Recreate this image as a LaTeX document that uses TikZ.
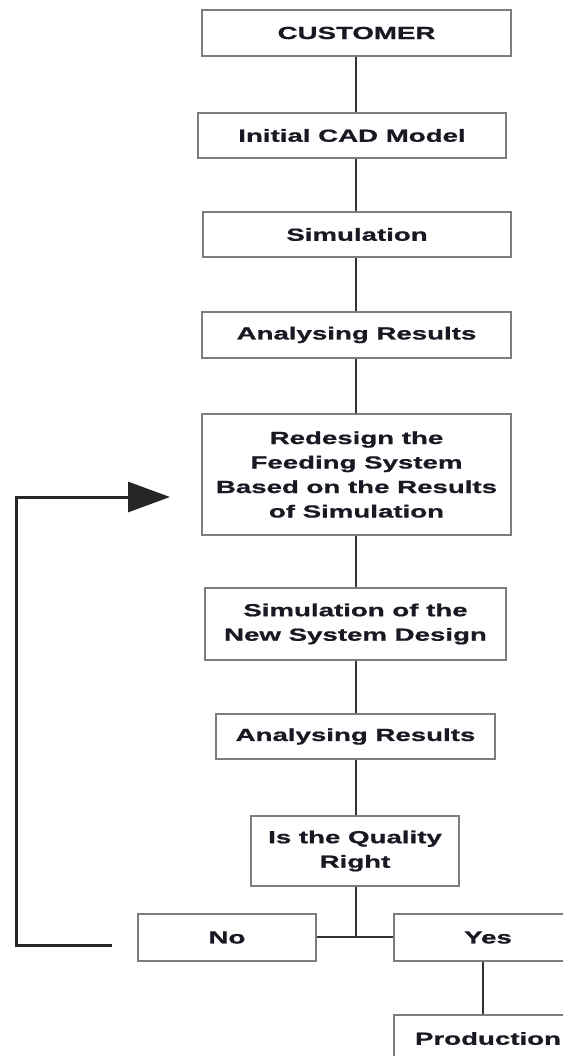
\documentclass[tikz,border=0pt]{standalone}
\usepackage{fontspec}
\setmainfont[FakeStretch=1.58, BoldFeatures={FakeBold=0.9}]{Liberation Sans}
\usetikzlibrary{arrows.meta}
\definecolor{boxline}{RGB}{125,125,125}
\definecolor{conn}{RGB}{50,50,50}
\definecolor{txt}{RGB}{25,25,35}
\tikzset{
  box/.style={draw=boxline, line width=2pt, fill=white, rectangle, inner sep=0pt,
    align=center, text=txt, font=\fontsize{17.5}{24.5}\selectfont\bfseries},
  conline/.style={draw=conn, line width=2.8pt},
  loopline/.style={draw=black!85, line width=3pt}
}
\begin{document}
\begin{tikzpicture}[x=1pt,y=-1pt]
\useasboundingbox (0,0) rectangle (563,1056);
\clip (0,0) rectangle (563,1056);
\fill[white] (0,0) rectangle (563,1056);
\coordinate (spine) at (356,0);
\node[box, minimum width=309pt, minimum height=46pt] (customer) at (356.5,33) {CUSTOMER};
\node[box, minimum width=308pt, minimum height=45pt] (cad) at (352,135.5) {Initial CAD Model};
\node[box, minimum width=308pt, minimum height=45pt] (sim) at (357,234.5) {Simulation};
\node[box, minimum width=309pt, minimum height=46pt] (ana1) at (356.5,335) {Analysing Results};
\node[box, minimum width=309pt, minimum height=121pt] (redesign) at (356.5,474.5) {Redesign the\\Feeding System\\Based on the Results\\of Simulation};
\node[box, minimum width=301pt, minimum height=72pt] (simnew) at (355.5,624) {Simulation of the\\New System Design};
\node[box, minimum width=279pt, minimum height=45pt] (ana2) at (355.5,736.5) {Analysing Results};
\node[box, minimum width=208pt, minimum height=70pt] (quality) at (355,851) {Is the Quality\\Right};
\node[box, minimum width=178pt, minimum height=47pt] (no) at (227,937.5) {No};
\node[box, minimum width=188pt, minimum height=47pt] (yes) at (488,937.5) {Yes};
\node[box, minimum width=188pt, minimum height=47pt] (production) at (488,1038.5) {Production};
\coordinate (yesx) at (483,0);
\coordinate (junction) at (356,937);
\coordinate (loopstart) at (112,945);
\coordinate (loopcorner1) at (16,945);
\coordinate (loopcorner2) at (16,497);
\coordinate (looptip) at (170,497);
\draw[conline] (customer.south -| spine) -- (cad.north -| spine);
\draw[conline] (cad.south -| spine) -- (sim.north -| spine);
\draw[conline] (sim.south -| spine) -- (ana1.north -| spine);
\draw[conline] (ana1.south -| spine) -- (redesign.north -| spine);
\draw[conline] (redesign.south -| spine) -- (simnew.north -| spine);
\draw[conline] (simnew.south -| spine) -- (ana2.north -| spine);
\draw[conline] (ana2.south -| spine) -- (quality.north -| spine);
\draw[conline] (quality.south -| spine) -- (junction);
\draw[conline] (no.east |- junction) -- (yes.west |- junction);
\draw[conline] (yes.south -| yesx) -- (production.north -| yesx);
\draw[loopline, -{Triangle[length=42pt,width=30pt]}] (loopstart) -- (loopcorner1) -- (loopcorner2) -- (looptip);
\end{tikzpicture}
\end{document}
